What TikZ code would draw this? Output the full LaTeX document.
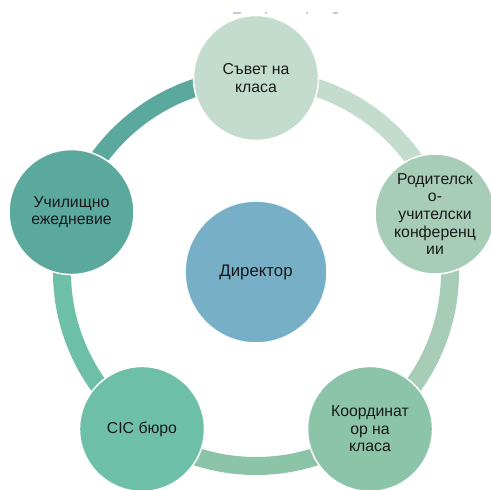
\documentclass[tikz,border=0pt]{standalone}
\usepackage{fontspec}
\setmainfont{Liberation Sans}
\usetikzlibrary{calc}
\begin{document}
\begin{tikzpicture}[x=1pt,y=-1pt,
  ring/.style={line width=18pt},
  bubble/.style={circle, draw=white, line width=1.5pt, minimum size=125pt, inner sep=0pt,
     align=center, text=black!90, font=\fontsize{15.8}{17.6}\selectfont},
  speck/.style={fill=speckgray, draw=none}]
\definecolor{cTop}{HTML}{C4DCCE}
\definecolor{cRight}{HTML}{A7CDB9}
\definecolor{cBR}{HTML}{8CC4AA}
\definecolor{cBL}{HTML}{6EBFA7}
\definecolor{cLeft}{HTML}{5BA99C}
\definecolor{cMid}{HTML}{76AFC6}
\definecolor{speckgray}{HTML}{C3C8DA}
\useasboundingbox (0,0) rectangle (491,490);
\fill[white] (0,0) rectangle (491,490);

% faint marks along the top edge
\fill[speck] (233,12) rectangle (241,13.5);
\fill[speck] (264.5,12) rectangle (266.5,14);
\fill[speck] (306,12) rectangle (308,14);
\fill[speck] (333,12.2) rectangle (338,13.6);

\coordinate (c) at (256,272);

% ring segments, each in the colour of the node it leaves (clockwise)
\draw[ring, cLeft]  (c) ++(-162:194) arc[start angle=-162, end angle=-90, radius=194];
\draw[ring, cTop]   (c) ++(-90:194)  arc[start angle=-90,  end angle=-18, radius=194];
\draw[ring, cRight] (c) ++(-18:194)  arc[start angle=-18,  end angle=54,  radius=194];
\draw[ring, cBR]    (c) ++(54:194)   arc[start angle=54,   end angle=126, radius=194];
\draw[ring, cBL]    (c) ++(126:194)  arc[start angle=126,  end angle=198, radius=194];

% nodes on the ring
\node[bubble, fill=cTop]   (sovet)  at ($(c)+(-90:194)$)  {Съвет на\\класа};
\node[bubble, fill=cRight, minimum size=120pt] (rod) at (435,214)
  {Родителск\\о-\\учителски\\конференц\\ии};
\node[bubble, fill=cBR]    (koord)  at ($(c)+(54:194)$)   {Координат\\ор на\\класа};
\node[bubble, fill=cBL]    (cic)    at ($(c)+(126:194)$)  {CIC бюро};
\node[bubble, fill=cLeft]  (uch)    at ($(c)+(198:194)$)  {Училищно\\ежедневие};

% centre node
\node[bubble, fill=cMid, minimum size=142pt, font=\fontsize{16.8}{19}\selectfont] (dir) at (c) {Директор};
\end{tikzpicture}
\end{document}
